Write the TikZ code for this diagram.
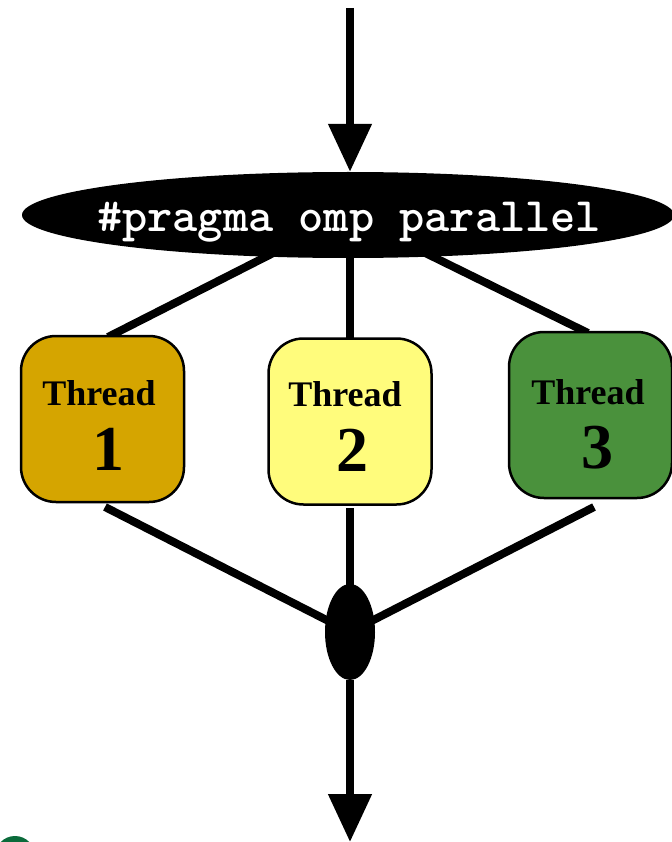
\documentclass[tikz,border=0pt]{standalone}
\usepackage{fontspec}
\usetikzlibrary{shapes.geometric,arrows.meta,backgrounds}
\newfontfamily\cour{lmmonolt10-bold}[Extension=.otf]
\newfontfamily\serifb{Liberation Serif}[BoldFont={* Bold}]
\definecolor{gold}{HTML}{D5A500}
\definecolor{lyellow}{HTML}{FFFC7C}
\definecolor{tgreen}{HTML}{4A913C}
\definecolor{dgreen}{HTML}{0B6B3B}
\begin{document}
\begin{tikzpicture}[x=1pt,y=-1pt,
  flow/.style={line width=8pt},
  arrowed/.style={flow,-{Triangle[length=48pt,width=42pt]}},
  threadbox/.style={draw=black,line width=2.5pt,rounded corners=35pt,minimum width=163pt,minimum height=166pt,inner sep=0pt},
  threadword/.style={anchor=base,inner sep=0pt,font=\serifb\bfseries\fontsize{36}{40}\selectfont},
  threadnum/.style={anchor=base,inner sep=0pt,font=\serifb\bfseries\fontsize{64}{70}\selectfont},
  blob/.style={ellipse,fill=black,inner sep=0pt}]
\useasboundingbox (0,0) rectangle (671,842);
\fill[dgreen] (15,856) circle (20);
% nodes
\node[blob,minimum width=652pt,minimum height=86pt] (pragma) at (348,215) {};
\node[text=white,inner sep=0pt,anchor=base,font=\cour\fontsize{48}{50}\selectfont] (ptext) at (349,231) {\#pragma omp parallel};
\node[threadbox,fill=gold] (t1) at (102.5,419) {};
\node[threadbox,fill=lyellow] (t2) at (350,421.5) {};
\node[threadbox,fill=tgreen] (t3) at (590.5,415) {};
\node[threadword] (w1) at (99,405) {Thread};
\node[threadnum] (n1) at (108,470) {1};
\node[threadword] (w2) at (345,406) {Thread};
\node[threadnum] (n2) at (352,471) {2};
\node[threadword] (w3) at (588,404) {Thread};
\node[threadnum] (n3) at (597,468) {3};
\node[blob,minimum width=50pt,minimum height=96pt] (join) at (350,632) {};
\coordinate (start) at (350,8);
\coordinate (finish) at (350,842);
\coordinate (t1top) at (108,337);
\coordinate (t3top) at (588,333);
\coordinate (t1bot) at (105,507);
\coordinate (t2bot) at (350,508);
\coordinate (t3bot) at (594,507);
% connectors
\draw[arrowed] (start) -- (pragma.north -| start);
\draw[arrowed] (join.south) -- (finish);
\begin{scope}[on background layer]
\draw[flow] (pragma.center) -- (t1top);
\draw[flow] (t2.center |- pragma.center) -- (t2.center);
\draw[flow] (pragma.center) -- (t3top);
\draw[flow] (t1bot) -- (join.center);
\draw[flow] (t2bot) -- (join.center);
\draw[flow] (t3bot) -- (join.center);
\end{scope}
\end{tikzpicture}
\end{document}
